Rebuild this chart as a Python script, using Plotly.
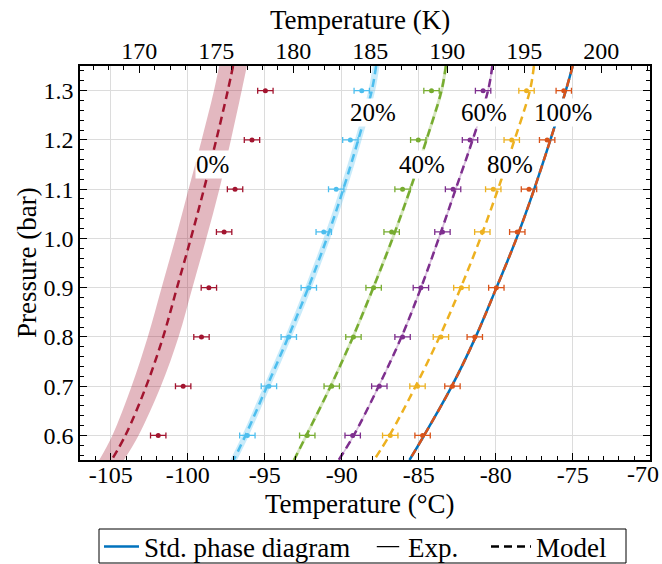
import numpy as np
import plotly.graph_objects as go

# ---------------- data ----------------
P_exp = [1.3, 1.2, 1.1, 1.013, 0.9, 0.8, 0.7, 0.6]
T_exp_0 = [-94.96, -95.83, -96.93, -97.64, -98.63, -99.11, -100.3, -101.92]
T_exp_20 = [-88.70, -89.44, -90.36, -91.17, -92.14, -93.44, -94.73, -96.13]
T_exp_40 = [-84.17, -85.03, -86.05, -86.76, -87.93, -89.24, -90.65, -92.24]
T_exp_60 = [-80.82, -81.67, -82.77, -83.46, -84.86, -86.05, -87.56, -89.29]
T_exp_80 = [-78.00, -78.96, -80.16, -80.87, -82.23, -83.56, -85.08, -86.85]
T_exp_100 = [-75.58, -76.66, -77.84, -78.60, -79.96, -81.36, -82.81, -84.75]
T_err = 0.5

P_model = [1.35, 1.3, 1.2, 1.1, 1.0, 0.9, 0.8, 0.7, 0.6, 0.55]
T_mod_0 = [-97.06, -97.40, -98.15, -98.95, -99.80, -100.70, -101.60, -102.70, -104.05, -104.95]
T_mod_20 = [-87.77, -88.05, -88.93, -89.90, -90.97, -92.17, -93.47, -94.85, -96.25, -97.02]
T_mod_40 = [-83.24, -83.52, -84.50, -85.55, -86.70, -87.95, -89.27, -90.72, -92.30, -93.10]
T_mod_60 = [-80.22, -80.50, -81.50, -82.60, -83.70, -84.85, -86.12, -87.60, -89.22, -90.20]
T_mod_80 = [-77.52, -77.78, -78.78, -79.85, -81.00, -82.27, -83.65, -85.20, -86.90, -87.90]
T_mod_100 = [-75.00, -75.45, -76.45, -77.50, -78.65, -79.95, -81.30, -82.85, -84.65, -85.60]
T_std = [-75.00, -75.45, -76.45, -77.50, -78.65, -79.95, -81.30, -82.85, -84.65, -85.60]

# model uncertainty half-widths (degC)
band_0 = [0.90, 0.90, 0.95, 1.00, 1.00, 1.00, 1.00, 0.95, 0.85, 0.80]
band_20 = [0.22] * 10
band_40 = [0.10] * 10
band_60 = [0.06] * 10

series_names = ["0%", "20%", "40%", "60%", "80%", "100%"]
label_T = [-98.37, -88.0, -84.79, -80.76, -79.07, -75.62]
label_P = [1.149, 1.256, 1.149, 1.256, 1.149, 1.256]

xtick_C = [-105, -100, -95, -90, -85, -80, -75, -70]
xtick_C_text = ["-105", "-100", "-95", "-90", "-85", "-80", "-75", "-70"]
xtick_K = [170, 175, 180, 185, 190, 195, 200]
xtick_K_text = ["170", "175", "180", "185", "190", "195", "200"]
ytick = [0.6, 0.7, 0.8, 0.9, 1.0, 1.1, 1.2, 1.3]
ytick_text = ["0.6", "0.7", "0.8", "0.9", "1.0", "1.1", "1.2", "1.3"]

# ---------------- style ----------------
FONT = "Liberation Serif, Tinos, Times New Roman, DejaVu Serif, serif"
colors = {"0%": "#A2142F", "20%": "#4DBEEE", "40%": "#77AC30",
          "60%": "#7E2F8E", "80%": "#EDB120", "100%": "#D95319"}
band_rgba = {"0%": "rgba(162,20,47,0.3)", "20%": "rgba(77,190,238,0.3)",
             "40%": "rgba(119,172,48,0.3)", "60%": "rgba(126,47,142,0.3)"}
DASH = "8px,5px"

T_exp = {"0%": T_exp_0, "20%": T_exp_20, "40%": T_exp_40,
         "60%": T_exp_60, "80%": T_exp_80, "100%": T_exp_100}
T_mod = {"0%": T_mod_0, "20%": T_mod_20, "40%": T_mod_40,
         "60%": T_mod_60, "80%": T_mod_80, "100%": T_mod_100}
bands = {"0%": band_0, "20%": band_20, "40%": band_40, "60%": band_60}

fig = go.Figure()

# uncertainty bands
for name, hw in bands.items():
    lo = np.array(T_mod[name]) - np.array(hw)
    hi = np.array(T_mod[name]) + np.array(hw)
    fig.add_trace(go.Scatter(x=lo, y=P_model, mode="lines", line=dict(width=0, shape="spline"),
                             showlegend=False, hoverinfo="skip"))
    fig.add_trace(go.Scatter(x=hi, y=P_model, mode="lines", line=dict(width=0, shape="spline"),
                             fill="tonextx", fillcolor=band_rgba[name],
                             showlegend=False, hoverinfo="skip"))

# standard phase diagram
fig.add_trace(go.Scatter(x=T_std, y=P_model, mode="lines", name="Std. phase diagram",
                         line=dict(color="#0072BD", width=2.5, shape="spline"),
                         legend="legend"))

# model curves
for name in series_names:
    fig.add_trace(go.Scatter(x=T_mod[name], y=P_model, mode="lines", showlegend=False,
                             line=dict(color=colors[name], width=2.5, dash=DASH, shape="spline")))

# experimental points
for name in series_names:
    fig.add_trace(go.Scatter(x=T_exp[name], y=P_exp, mode="markers", showlegend=False,
                             marker=dict(color=colors[name], size=5),
                             error_x=dict(type="constant", value=T_err, color=colors[name],
                                          thickness=1.3, width=3)))

# legend-only entries
fig.add_trace(go.Scatter(x=[None], y=[None], mode="markers", name="Exp.",
                         marker=dict(symbol="line-ew", size=18, color="black",
                                     line=dict(color="black", width=1.3)),
                         legend="legend2"))
fig.add_trace(go.Scatter(x=[None], y=[None], mode="lines", name="Model",
                         line=dict(color="black", width=2.5, dash=DASH),
                         legend="legend3"))

# invisible trace to carry the Kelvin axis
fig.add_trace(go.Scatter(x=np.array(T_exp_0) + 273.15, y=P_exp, xaxis="x2", mode="markers",
                         marker=dict(opacity=0), showlegend=False, hoverinfo="skip"))

# labels
for name, tx, py in zip(series_names, label_T, label_P):
    fig.add_annotation(x=tx, y=py, xref="x", yref="y", text=name, showarrow=False,
                       bgcolor="white", borderpad=0, font=dict(family=FONT, size=25, color="black"))

L, R, T, B = 80, 12, 66, 104
W, H = 662, 564
pw, ph = W - L - R, H - T - B


def px2x(px):
    return (px - L) / pw


def py2y(py):
    return (H - B - py) / ph


# bottom tick labels: the last one sits at the figure edge, so keep it inside the page
bottom_text = xtick_C_text[:-1] + [""]
fig.add_annotation(x=px2x(W - 1), y=py2y(474), xref="paper", yref="paper", showarrow=False,
                   text=xtick_C_text[-1], font=dict(family=FONT, size=24, color="black"),
                   xanchor="right", yanchor="middle")

# axis titles
title_font = dict(family=FONT, size=27, color="black")
fig.add_annotation(x=px2x(360), y=py2y(504), xref="paper", yref="paper", showarrow=False,
                   text="Temperature (°C)", font=title_font, xanchor="center", yanchor="middle")
fig.add_annotation(x=px2x(360), y=py2y(20), xref="paper", yref="paper", showarrow=False,
                   text="Temperature (K)", font=title_font, xanchor="center", yanchor="middle")
fig.add_annotation(x=px2x(27), y=py2y(263), xref="paper", yref="paper", showarrow=False,
                   text="Pressure (bar)", font=title_font, textangle=-90,
                   xanchor="center", yanchor="middle")

fig.add_shape(type="rect", xref="paper", yref="paper",
              x0=px2x(99), x1=px2x(626), y0=py2y(563), y1=py2y(529),
              line=dict(color="black", width=1), fillcolor="white", layer="below")

legend_common = dict(orientation="h", xanchor="left", yanchor="middle",
                     bgcolor="rgba(0,0,0,0)", borderwidth=0,
                     font=dict(family=FONT, size=27, color="black"))

axis_common = dict(showline=True, linecolor="black", linewidth=1.5, ticks="inside",
                   ticklen=7, tickwidth=1, tickcolor="black", zeroline=False,
                   tickfont=dict(family=FONT, size=24, color="black"))

fig.update_layout(
    width=W, height=H, margin=dict(l=L, r=R, t=T, b=B, autoexpand=False),
    paper_bgcolor="white", plot_bgcolor="white",
    font=dict(family=FONT, color="black"),
    xaxis=dict(range=[-107, -69.98], tickmode="array", tickvals=xtick_C, ticktext=bottom_text,
               showgrid=True, gridcolor="#dcdcdc", gridwidth=1, ticklabelstandoff=-8,
               minor=dict(tickmode="linear", tick0=-105, dtick=1, ticks="inside", ticklen=4,
                          tickcolor="black", showgrid=False),
               **axis_common),
    xaxis2=dict(range=[-107 + 273.15, -69.98 + 273.15], overlaying="x", side="top", anchor="y",
                tickmode="array", tickvals=xtick_K, ticktext=xtick_K_text, showgrid=False,
                ticklabelstandoff=-4,
                minor=dict(tickmode="linear", tick0=170, dtick=1, ticks="inside", ticklen=4,
                           tickcolor="black"),
                **axis_common),
    yaxis=dict(range=[0.55, 1.35], tickmode="array", tickvals=ytick, ticktext=ytick_text,
               showgrid=True, gridcolor="#dcdcdc", gridwidth=1, mirror="ticks",
               minor=dict(tickmode="linear", tick0=0.6, dtick=0.02, ticks="inside", ticklen=4,
                          tickcolor="black", showgrid=False),
               **axis_common),
    legend=dict(x=px2x(99), y=py2y(547), itemwidth=35, **legend_common),
    legend2=dict(x=px2x(368), y=py2y(547), itemwidth=30, **legend_common),
    legend3=dict(x=px2x(486), y=py2y(547), itemwidth=40, **legend_common),
    showlegend=True,
)

fig.write_html("out.html")
